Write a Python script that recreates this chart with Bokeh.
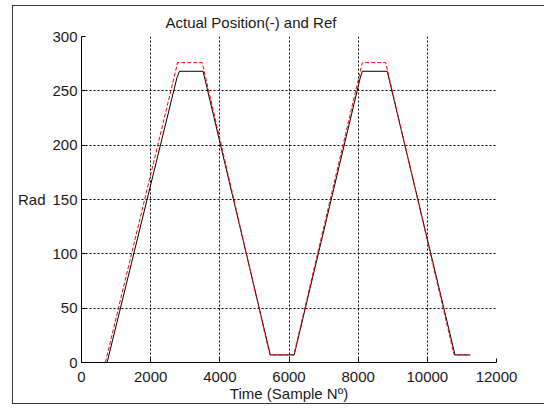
from bokeh.plotting import figure
from bokeh.models import Range1d, FixedTicker
from bokeh.embed import file_html
from bokeh.resources import INLINE

# Reference position (red dashed)
time_ref = [0, 690, 2780, 3490, 5445, 6140, 8120, 8795, 10773, 11240]
pos_ref = [0, 0, 276, 276, 7, 7, 276, 276, 7, 7]

# Actual position (black solid)
time_act = [0, 740, 2760, 2830, 3515, 5460, 6150, 8060, 8120, 8840, 10800, 11240]
pos_act = [0, 0, 262, 268, 268, 7, 7, 262, 268, 268, 7, 7]

x_ticks = [0, 2000, 4000, 6000, 8000, 10000, 12000]
y_ticks = [0, 50, 100, 150, 200, 250, 300]

FONT = "Liberation Sans"

p = figure(width=532, height=399, output_backend="svg", toolbar_location=None,
           x_range=Range1d(0, 12000), y_range=Range1d(0, 300),
           min_border_left=68, min_border_right=49, min_border_top=30, min_border_bottom=43,
           title="Actual Position(-) and Ref")
# figure-window frame (left, top, bottom edges)
p.styles = {"margin-left": "12px", "margin-top": "5px",
            "border-top": "1px solid #3c3434", "border-left": "1px solid #3c3434",
            "border-bottom": "1px solid #3c3434"}

p.title.align = "left"
p.title.offset = 84
p.title.text_font = FONT
p.title.text_font_size = "15px"
p.title.text_font_style = "normal"
p.title.text_color = "#1a1a1a"
p.title.standoff = 11

p.outline_line_color = None
p.background_fill_color = "white"
p.border_fill_color = "white"

for ax, ticks in ((p.xaxis[0], x_ticks), (p.yaxis[0], y_ticks)):
    ax.ticker = FixedTicker(ticks=ticks)
    ax.major_tick_in = 4
    ax.major_tick_out = 0
    ax.minor_tick_line_color = None
    ax.axis_line_color = "black"
    ax.major_tick_line_color = "black"
    ax.major_label_text_font = FONT
    ax.major_label_text_font_size = "15px"
    ax.major_label_text_color = "#1a1a1a"
    ax.axis_label_text_font = FONT
    ax.axis_label_text_font_size = "15px"
    ax.axis_label_text_font_style = "normal"
    ax.axis_label_text_color = "#1a1a1a"

p.xaxis.axis_label = "Time (Sample N\u00ba)"
p.xaxis.major_label_standoff = 9
p.xaxis.axis_label_standoff = 0
p.yaxis.axis_label = "Rad"
p.yaxis.axis_label_orientation = "horizontal"
p.yaxis.major_label_standoff = 4
p.yaxis.axis_label_standoff = 4

for g, ticks in ((p.xgrid[0], x_ticks), (p.ygrid[0], y_ticks)):
    g.ticker = FixedTicker(ticks=ticks)
    g.grid_line_color = "black"
    g.grid_line_dash = "2 2"
    g.grid_line_width = 1
    g.grid_line_alpha = 1.0

p.line(time_act, pos_act, line_color="black", line_width=1)
p.line(time_ref, pos_ref, line_color="red", line_width=1, line_dash="4 2")

open("out.html", "w").write(file_html(p, INLINE))
